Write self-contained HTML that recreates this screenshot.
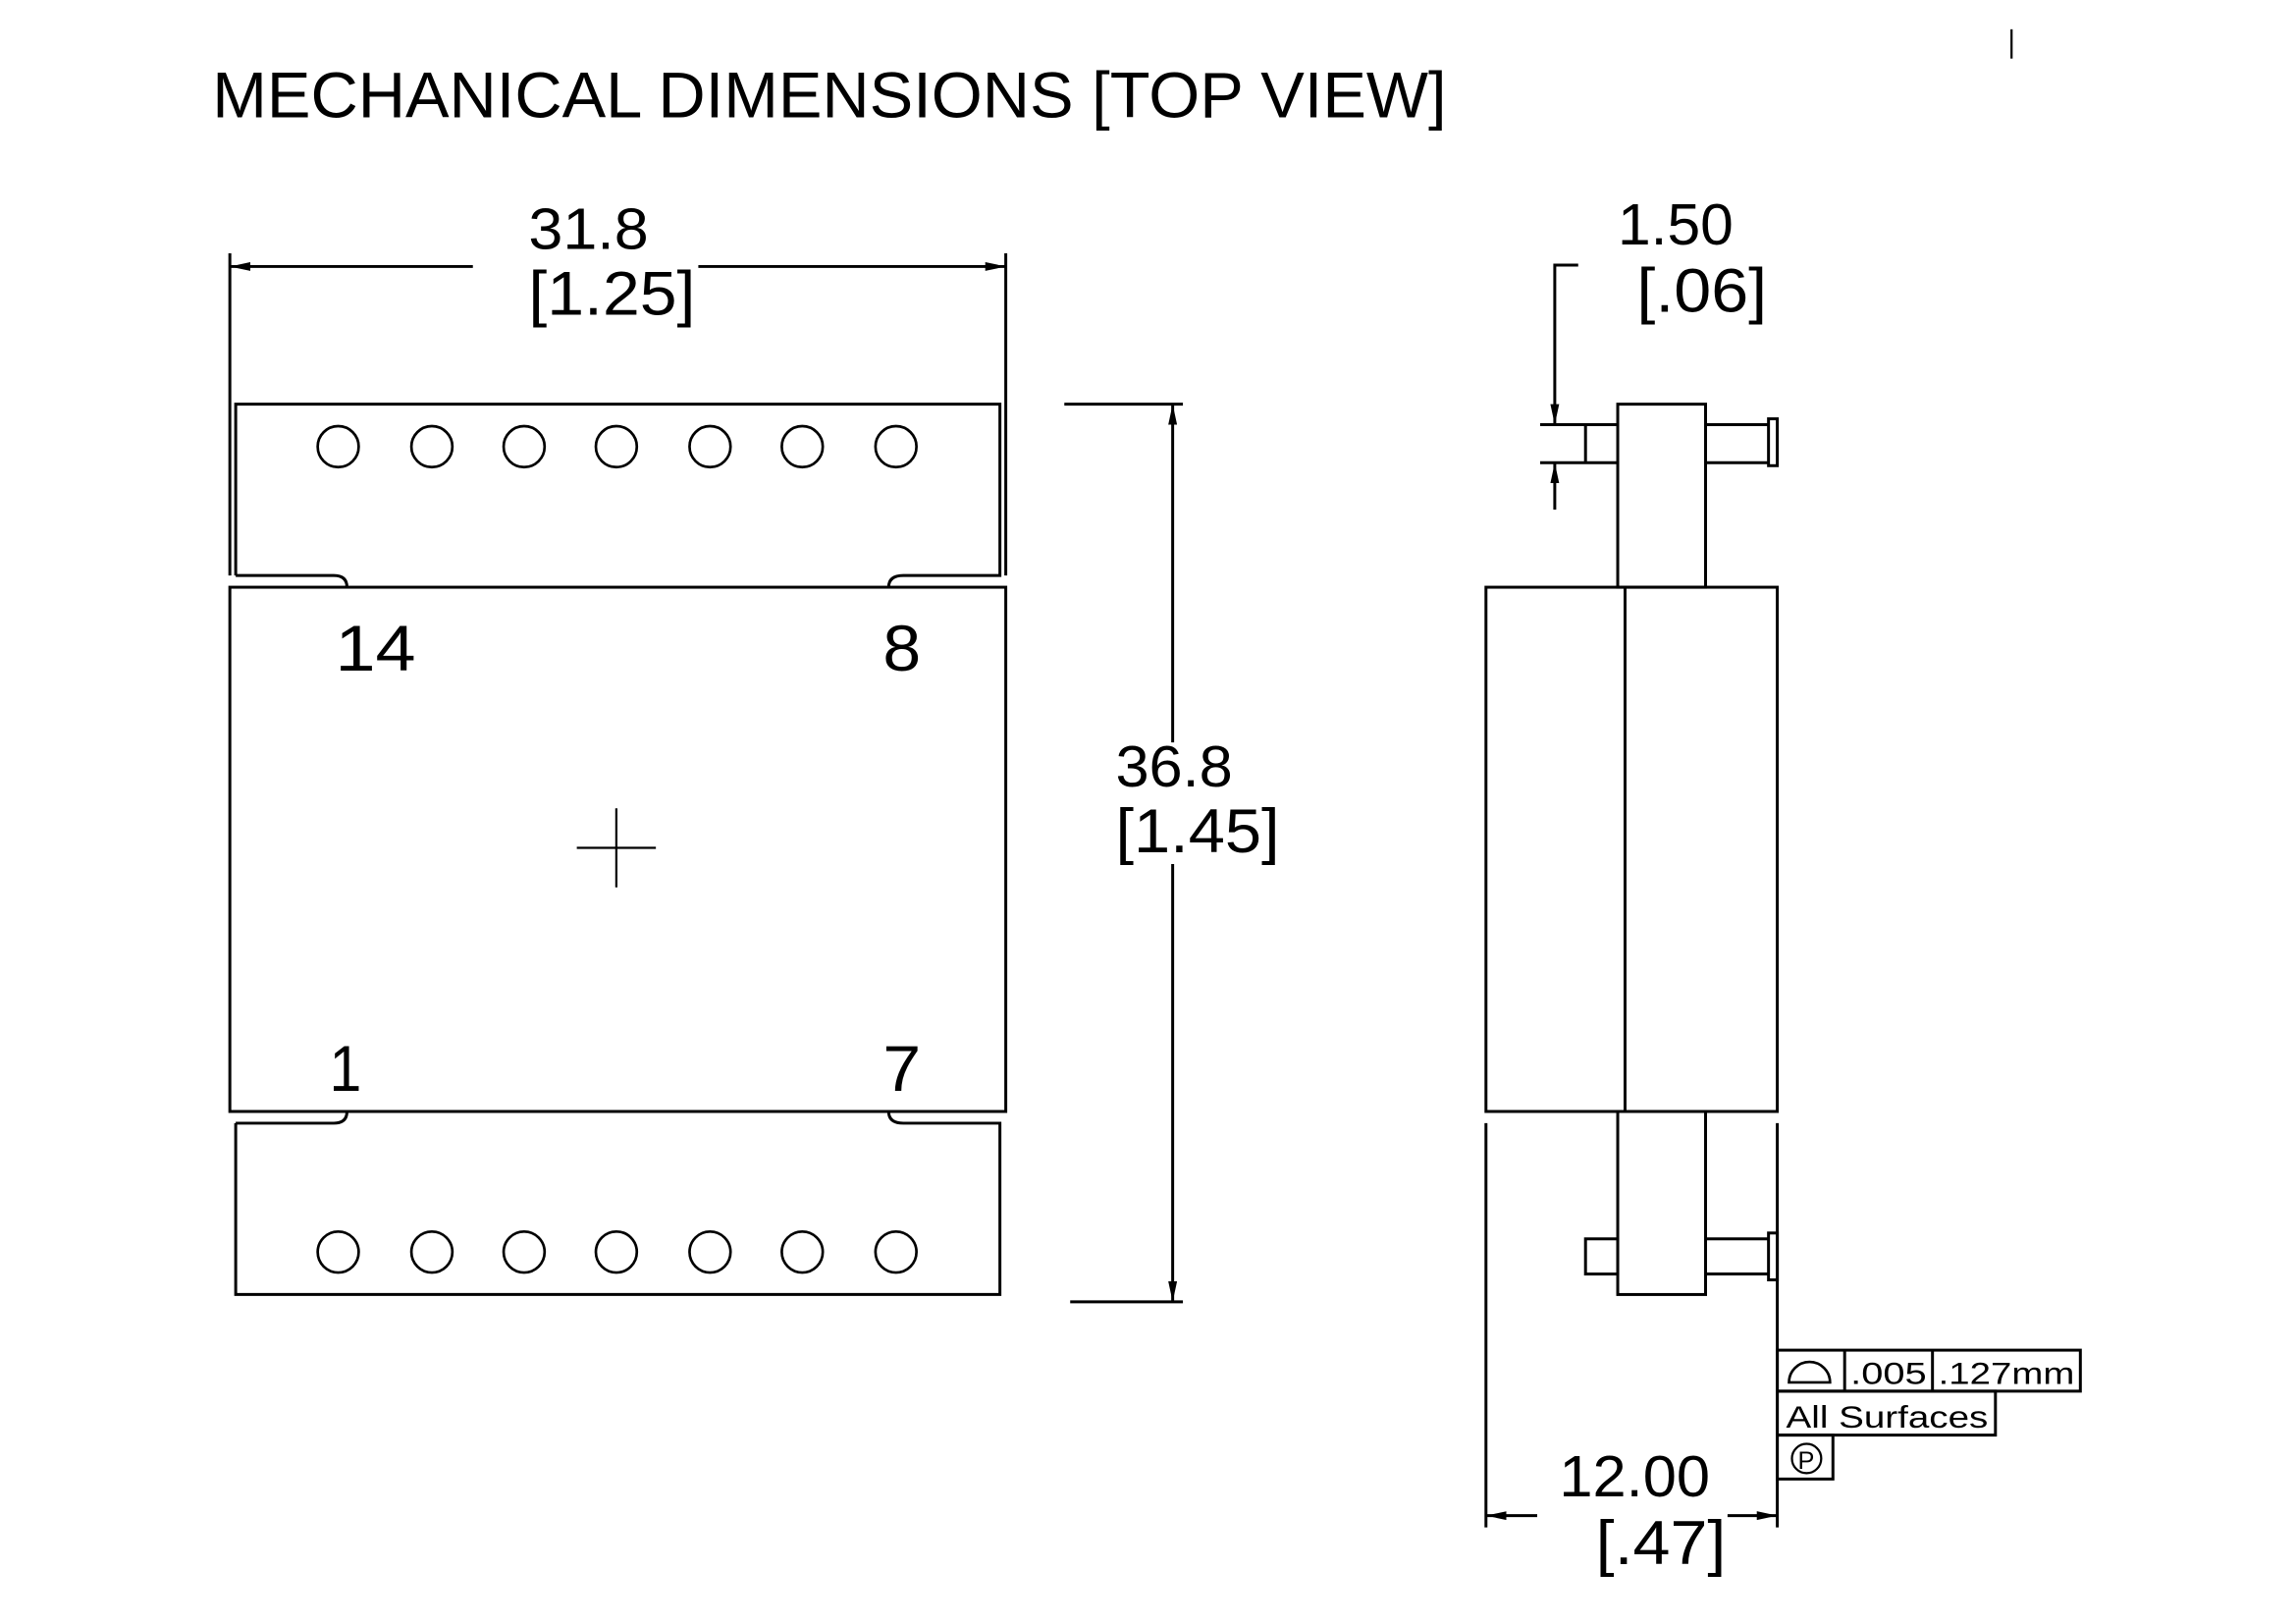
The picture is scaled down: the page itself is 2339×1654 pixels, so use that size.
<!DOCTYPE html>
<html><head><meta charset="utf-8"><style>
html,body{margin:0;padding:0;background:#fff;}
svg{display:block;}
text{font-family:"Liberation Sans",sans-serif;fill:#000;}
</style></head><body>
<svg width="2339" height="1654" viewBox="0 0 1568.3 1109" preserveAspectRatio="none" xmlns="http://www.w3.org/2000/svg">
<defs>
<marker id="ar" viewBox="0 0 14 6" refX="14" refY="3" markerWidth="14" markerHeight="6" markerUnits="userSpaceOnUse" orient="auto">
<path d="M0,0 L14,3 L0,6 Z" fill="#000"/></marker>
</defs>
<g fill="none" stroke="#000" stroke-width="2">
<line x1="1374" y1="20" x2="1374" y2="40" stroke-width="1.5"/>
<line x1="157" y1="173" x2="157" y2="393"/>
<line x1="687" y1="173" x2="687" y2="393"/>
<line x1="323" y1="182" x2="157" y2="182" marker-end="url(#ar)"/>
<line x1="477" y1="182" x2="687" y2="182" marker-end="url(#ar)"/>
<path d="M161,393 L161,276 L683,276 L683,393 L617,393 Q607,393 607,401"/>
<path d="M161,393 L228,393 Q237,393 237,401"/>
<rect x="157" y="401" width="530" height="358"/>
<path d="M161,767 L228,767 Q237,767 237,759"/>
<path d="M161,767 L161,884 L683,884 L683,767 L617,767 Q607,767 607,759"/>
<g stroke-width="1.8">
<circle cx="231" cy="305" r="14"/><circle cx="295" cy="305" r="14"/><circle cx="358" cy="305" r="14"/><circle cx="421" cy="305" r="14"/><circle cx="485" cy="305" r="14"/><circle cx="548" cy="305" r="14"/><circle cx="612" cy="305" r="14"/>
<circle cx="231" cy="855" r="14"/><circle cx="295" cy="855" r="14"/><circle cx="358" cy="855" r="14"/><circle cx="421" cy="855" r="14"/><circle cx="485" cy="855" r="14"/><circle cx="548" cy="855" r="14"/><circle cx="612" cy="855" r="14"/>
</g>
<line x1="394" y1="579" x2="448" y2="579" stroke-width="1.5"/>
<line x1="421" y1="552" x2="421" y2="606" stroke-width="1.5"/>
<line x1="727" y1="276" x2="808" y2="276"/>
<line x1="731" y1="889" x2="808" y2="889"/>
<line x1="801" y1="507" x2="801" y2="276" marker-end="url(#ar)"/>
<line x1="801" y1="590" x2="801" y2="889" marker-end="url(#ar)"/>

<rect x="1015" y="401" width="199" height="358"/>
<line x1="1110" y1="401" x2="1110" y2="759"/>
<rect x="1105" y="276" width="60" height="125"/>
<rect x="1105" y="759" width="60" height="125"/>
<line x1="1052" y1="290" x2="1105" y2="290"/>
<line x1="1052" y1="316" x2="1105" y2="316"/>
<line x1="1083" y1="290" x2="1083" y2="316"/>
<line x1="1165" y1="290" x2="1208" y2="290"/>
<line x1="1165" y1="316" x2="1208" y2="316"/>
<rect x="1208" y="286" width="6" height="32"/>
<rect x="1083" y="846" width="22" height="24"/>
<line x1="1165" y1="846" x2="1208" y2="846"/>
<line x1="1165" y1="870" x2="1208" y2="870"/>
<rect x="1208" y="842" width="6" height="32"/>
<polyline points="1078,181 1062,181 1062,290" marker-end="url(#ar)"/>
<line x1="1062" y1="348" x2="1062" y2="316" marker-end="url(#ar)"/>
<line x1="1015" y1="767" x2="1015" y2="1043"/>
<line x1="1214" y1="767" x2="1214" y2="1043"/>
<line x1="1050" y1="1035" x2="1015" y2="1035" marker-end="url(#ar)"/>
<line x1="1180" y1="1035" x2="1214" y2="1035" marker-end="url(#ar)"/>
<rect x="1214" y="922" width="207" height="28"/>
<line x1="1260" y1="922" x2="1260" y2="950"/>
<line x1="1320" y1="922" x2="1320" y2="950"/>
<rect x="1214" y="950" width="149" height="30"/>
<rect x="1214" y="980" width="38" height="30"/>
<path d="M1222,944 L1250,944 A14,14 0 0 0 1222,944 Z" stroke-width="1.8"/>
<circle cx="1234" cy="996" r="10" stroke-width="1.5"/>
</g>
<text x="145" y="80" font-size="44" textLength="843" lengthAdjust="spacingAndGlyphs">MECHANICAL DIMENSIONS [TOP VIEW]</text>
<text x="361" y="170" font-size="40" textLength="82" lengthAdjust="spacingAndGlyphs">31.8</text>
<text x="361" y="215" font-size="42" textLength="114" lengthAdjust="spacingAndGlyphs">[1.25]</text>
<text x="229" y="458" font-size="44" textLength="55" lengthAdjust="spacingAndGlyphs">14</text>
<text x="603" y="458" font-size="44" textLength="26" lengthAdjust="spacingAndGlyphs">8</text>
<text x="225" y="745" font-size="44" textLength="22" lengthAdjust="spacingAndGlyphs">1</text>
<text x="603" y="745" font-size="44" textLength="26" lengthAdjust="spacingAndGlyphs">7</text>
<text x="762" y="537" font-size="40" textLength="80" lengthAdjust="spacingAndGlyphs">36.8</text>
<text x="762" y="582" font-size="42" textLength="112" lengthAdjust="spacingAndGlyphs">[1.45]</text>
<text x="1105" y="167" font-size="40" textLength="79" lengthAdjust="spacingAndGlyphs">1.50</text>
<text x="1118" y="213" font-size="42" textLength="89" lengthAdjust="spacingAndGlyphs">[.06]</text>
<text x="1065" y="1022" font-size="40" textLength="103" lengthAdjust="spacingAndGlyphs">12.00</text>
<text x="1090" y="1068" font-size="42" textLength="89" lengthAdjust="spacingAndGlyphs">[.47]</text>
<text x="1264" y="945" font-size="21" textLength="52" lengthAdjust="spacingAndGlyphs">.005</text>
<text x="1324" y="945" font-size="21" textLength="93" lengthAdjust="spacingAndGlyphs">.127mm</text>
<text x="1220" y="975" font-size="21" textLength="138" lengthAdjust="spacingAndGlyphs">All  Surfaces</text>
<text x="1228" y="1003" font-size="17">P</text>
</svg>
</body></html>
